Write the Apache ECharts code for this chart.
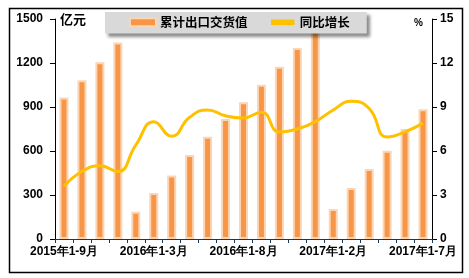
<!DOCTYPE html>
<html><head><meta charset="utf-8">
<script src="https://cdn.jsdelivr.net/npm/echarts@6/dist/echarts.min.js"></script>
<style>html,body{margin:0;padding:0;background:#fff}#c{width:469px;height:278px}</style>
</head><body><div id="c"></div>
<script>
const categories = ['2015年1-9月','2015年1-10月','2015年1-11月','2015年1-12月',
 '2016年1-2月','2016年1-3月','2016年1-4月','2016年1-5月','2016年1-6月','2016年1-7月','2016年1-8月','2016年1-9月','2016年1-10月','2016年1-11月','2016年1-12月',
 '2017年1-2月','2017年1-3月','2017年1-4月','2017年1-5月','2017年1-6月','2017年1-7月'];
const exportValue = [965,1082,1205,1340,185,313,433,573,697,818,932,1052,1175,1302,1450,204,347,477,602,750,884];
const growthRate = [3.6,4.6,5.0,4.6,6.4,8.0,7.0,8.3,8.8,8.4,8.25,8.65,7.3,7.5,8.0,8.8,9.4,8.9,6.95,7.3,7.9];
const leftTicks = {min:0,max:1500,interval:300};
const rightTicks = {min:0,max:15,interval:3};

const chart = echarts.init(document.getElementById('c'));
const lbl = {fontFamily:'Arial, Liberation Sans', fontWeight:'bold', fontSize:12, color:'#000'};
chart.setOption({
  animation:false,
  grid:{left:55,right:37,top:19,bottom:39},
  graphic:[
    {type:'rect',shape:{x:9.5,y:8.5,width:453,height:264},style:{fill:'none',stroke:'#000',lineWidth:1.5},z:-1},
    {type:'text',left:60,top:13,style:{text:'亿元',font:'bold 13px "Noto Sans CJK SC"',fill:'#000'}},
    {type:'text',left:414,top:18,style:{text:'%',font:'bold 10px Arial',fill:'#000'}}
  ],
  legend:{
    left:105,top:12,
    backgroundColor:'#d9d9d9',
    shadowBlur:3,shadowColor:'rgba(0,0,0,0.45)',shadowOffsetX:3,shadowOffsetY:3,
    padding:[4,17,5,24],itemGap:21,
    itemWidth:26,itemHeight:8,
    textStyle:{fontFamily:'"Noto Sans CJK SC"',fontWeight:'bold',fontSize:12.5,color:'#000',padding:[0,0,0,-1]},
    data:[
      {name:'累计出口交货值',icon:'rect',itemStyle:{color:'#f79646',borderColor:'#fcd5b4',borderWidth:2}},
      {name:'同比增长',icon:'rect',itemStyle:{color:'#ffc000',borderColor:'#d9d9d9',borderWidth:2.5}}
    ]
  },
  xAxis:{
    type:'category',data:categories,
    axisLine:{lineStyle:{color:'#17375e',width:1}},
    axisTick:{show:true,alignWithLabel:false,interval:0,length:4,lineStyle:{color:'#17375e'}},
    axisLabel:Object.assign({interval:4,margin:7},lbl)
  },
  yAxis:[
    Object.assign({type:'value',splitLine:{show:false},
      axisLine:{show:true,lineStyle:{color:'#000',width:1}},
      axisTick:{show:true,length:5,lineStyle:{color:'#000'}},
      axisLabel:Object.assign({margin:12,formatter:v=>String(v)},lbl)},leftTicks),
    Object.assign({type:'value',splitLine:{show:false},position:'right',
      axisLine:{show:true,lineStyle:{color:'#000',width:1}},
      axisTick:{show:true,length:5,lineStyle:{color:'#000'}},
      axisLabel:Object.assign({margin:8,formatter:v=>String(v)},lbl)},rightTicks)
  ],
  series:[
    {name:'累计出口交货值',type:'bar',data:exportValue,barWidth:9,
     itemStyle:{color:'#f79646',borderColor:'#fcd5b4',borderWidth:2}},
    {name:'同比增长',type:'line',yAxisIndex:1,data:growthRate,smooth:0.5,symbol:'none',
     lineStyle:{color:'#ffc000',width:3},itemStyle:{color:'#ffc000'}}
  ]
});
</script></body></html>
